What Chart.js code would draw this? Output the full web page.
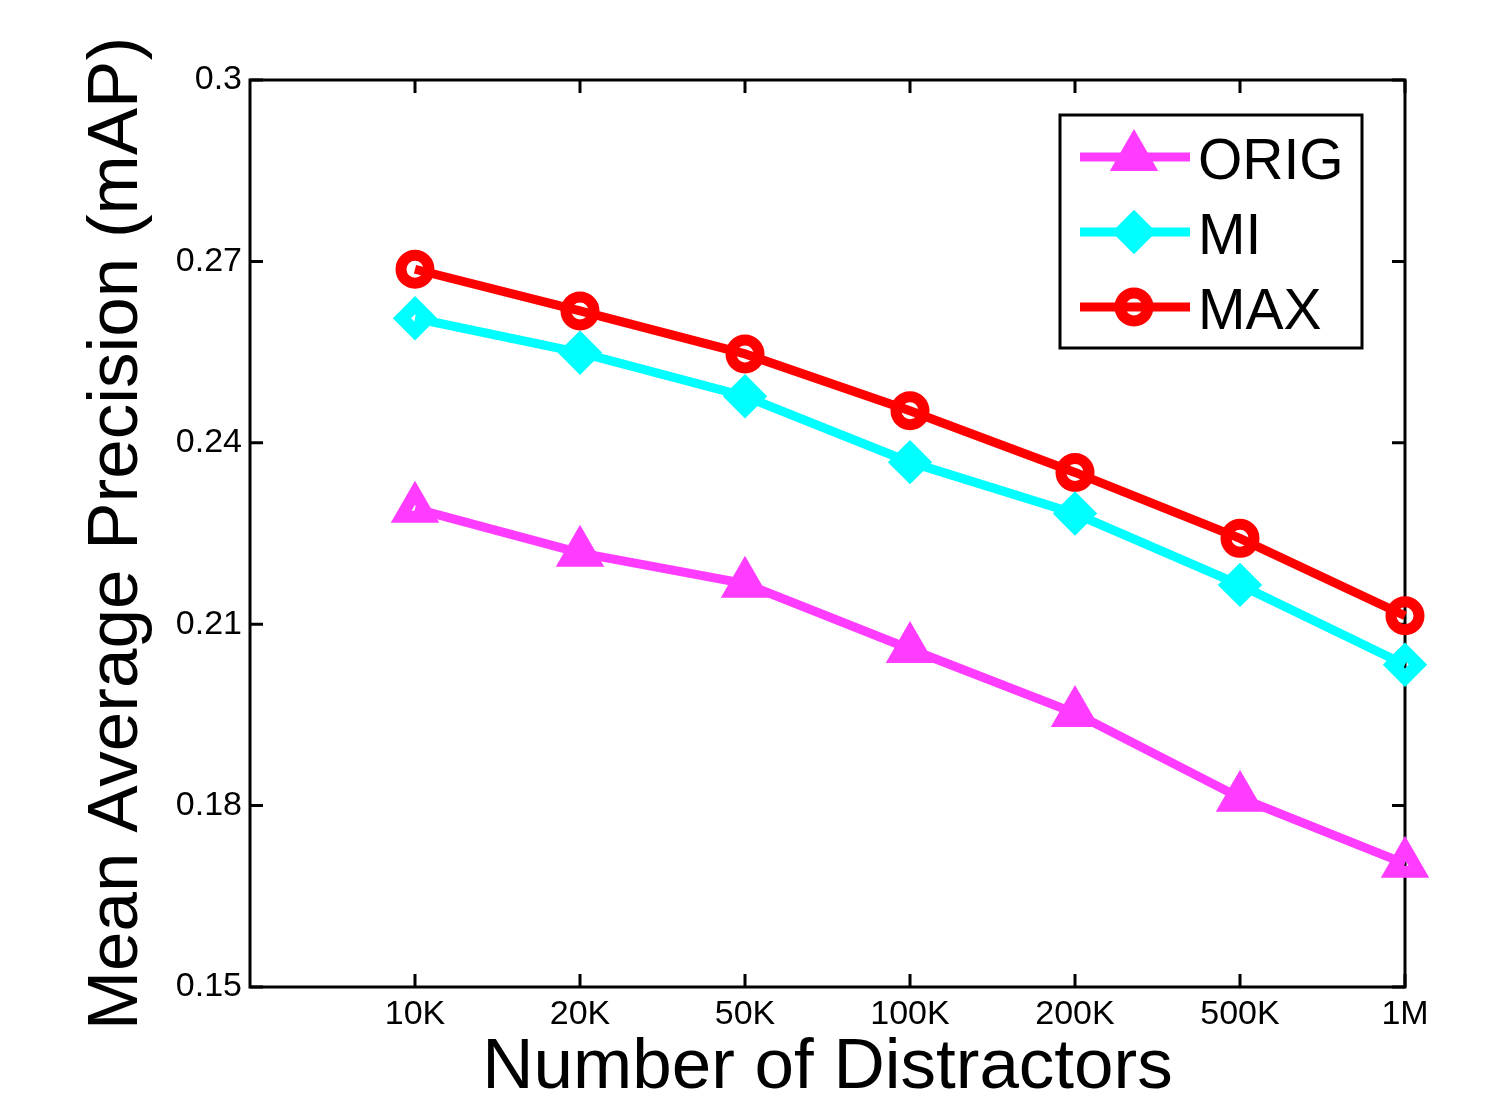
<!DOCTYPE html>
<html>
<head>
<meta charset="utf-8">
<title>Mean Average Precision vs Number of Distractors</title>
<script src="https://cdn.jsdelivr.net/npm/chart.js@4.4.0/dist/chart.umd.min.js"></script>
<style>
    body { margin: 0; background: #ffffff; }
    #chart { display: block; }
</style>
</head>
<body>
<canvas id="chart" width="1489" height="1096"></canvas>
<script>
// Data
const xLabels = ['10K', '20K', '50K', '100K', '200K', '500K', '1M'];
const origValues = [0.2291, 0.2218, 0.2167, 0.2059, 0.1953, 0.1813, 0.1704];
const miValues = [0.2606, 0.2549, 0.2477, 0.2368, 0.2283, 0.2165, 0.2033];
const maxValues = [0.2687, 0.2618, 0.2547, 0.2453, 0.2351, 0.2242, 0.2114];
const yTicks = [0.15, 0.18, 0.21, 0.24, 0.27, 0.3];
const seriesNames = ['ORIG', 'MI', 'MAX'];

const family = "'Liberation Sans', Arial, Helvetica, sans-serif";

// x positions 1..7, axis runs from 0 to 7
function toPoints(values) {
    return values.map((v, i) => ({ x: i + 1, y: v }));
}

function makeDataset(label, values, color, style, radius, markerWidth) {
    return {
        label: label,
        data: toPoints(values),
        borderColor: color,
        backgroundColor: 'rgba(0,0,0,0)',
        borderWidth: 9,
        tension: 0,
        clip: false,
        pointStyle: style,
        pointRadius: radius,
        pointHoverRadius: radius,
        pointBorderWidth: markerWidth,
        pointHoverBorderWidth: markerWidth,
        pointBorderColor: color,
        pointBackgroundColor: 'rgba(0,0,0,0)'
    };
}

const datasets = [
    makeDataset(seriesNames[0], origValues, '#ff3cff', 'triangle', 16, 12),
    makeDataset(seriesNames[1], miValues, '#00ffff', 'rectRot', 13, 13),
    makeDataset(seriesNames[2], maxValues, '#ff0000', 'circle', 14, 11)
];

// Box round the plot and inward ticks on all four sides
const matlabAxes = {
    id: 'matlabAxes',
    beforeDatasetsDraw(chart) {
        const { ctx, chartArea: a, scales } = chart;
        const len = 13;
        ctx.save();
        ctx.strokeStyle = '#000';
        ctx.lineWidth = 3;
        ctx.strokeRect(a.left, a.top, a.right - a.left, a.bottom - a.top);
        ctx.beginPath();
        xLabels.forEach((_, i) => {
            const x = scales.x.getPixelForValue(i + 1);
            ctx.moveTo(x, a.bottom);
            ctx.lineTo(x, a.bottom - len);
            ctx.moveTo(x, a.top);
            ctx.lineTo(x, a.top + len);
        });
        yTicks.forEach(v => {
            const y = scales.y.getPixelForValue(v);
            ctx.moveTo(a.left, y);
            ctx.lineTo(a.left + len, y);
            ctx.moveTo(a.right, y);
            ctx.lineTo(a.right - len, y);
        });
        ctx.stroke();
        ctx.restore();
    }
};

// Legend box in the upper right, line + marker + name
const boxLegend = {
    id: 'boxLegend',
    afterDraw(chart) {
        const ctx = chart.ctx;
        const rows = [157, 232, 307];
        ctx.save();
        ctx.fillStyle = '#fff';
        ctx.fillRect(1060, 115, 302, 233);
        ctx.strokeStyle = '#000';
        ctx.lineWidth = 3;
        ctx.strokeRect(1060, 115, 302, 233);

        chart.data.datasets.forEach((ds, i) => {
            const y = rows[i];
            ctx.strokeStyle = ds.borderColor;
            ctx.lineWidth = ds.borderWidth;
            ctx.beginPath();
            ctx.moveTo(1080, y);
            ctx.lineTo(1190, y);
            ctx.stroke();

            ctx.fillStyle = 'rgba(0,0,0,0)';
            ctx.lineWidth = ds.pointBorderWidth;
            Chart.helpers.drawPoint(ctx, {
                pointStyle: ds.pointStyle,
                radius: ds.pointRadius,
                borderWidth: ds.pointBorderWidth,
                rotation: 0
            }, 1134, y);

            ctx.fillStyle = '#000';
            ctx.font = '57px ' + family;
            ctx.textAlign = 'left';
            ctx.textBaseline = 'middle';
            ctx.fillText(ds.label, 1198, y + 6);
        });
        ctx.restore();
    }
};

new Chart(document.getElementById('chart'), {
    type: 'line',
    data: { datasets: datasets },
    options: {
        responsive: false,
        animation: false,
        events: [],
        layout: {
            padding: { top: 80, right: 84, left: 0, bottom: 0 }
        },
        scales: {
            x: {
                type: 'linear',
                min: 0,
                max: 7,
                afterBuildTicks: scale => {
                    scale.ticks = xLabels.map((_, i) => ({ value: i + 1 }));
                },
                afterFit: scale => { scale.height = 109; },
                grid: { display: false, drawTicks: false },
                border: { display: false },
                ticks: {
                    callback: v => xLabels[v - 1],
                    color: '#000',
                    font: { size: 34, family: family },
                    padding: 7,
                    maxRotation: 0,
                    autoSkip: false
                },
                title: {
                    display: true,
                    text: 'Number of Distractors',
                    color: '#000',
                    font: { size: 71, family: family, lineHeight: 1 },
                    padding: { top: 0, bottom: -8 }
                }
            },
            y: {
                type: 'linear',
                min: 0.15,
                max: 0.3,
                afterBuildTicks: scale => {
                    scale.ticks = yTicks.map(v => ({ value: v }));
                },
                afterFit: scale => { scale.width = 250; },
                grid: { display: false, drawTicks: false },
                border: { display: false },
                ticks: {
                    callback: v => String(v),
                    color: '#000',
                    font: { size: 34, family: family },
                    padding: 8
                },
                title: {
                    display: true,
                    text: 'Mean Average Precision (mAP)',
                    color: '#000',
                    font: { size: 71, family: family, lineHeight: 1 },
                    padding: { top: 82, bottom: 0 }
                }
            }
        },
        plugins: {
            legend: { display: false },
            tooltip: { enabled: false }
        }
    },
    plugins: [matlabAxes, boxLegend]
});
</script>
</body>
</html>
